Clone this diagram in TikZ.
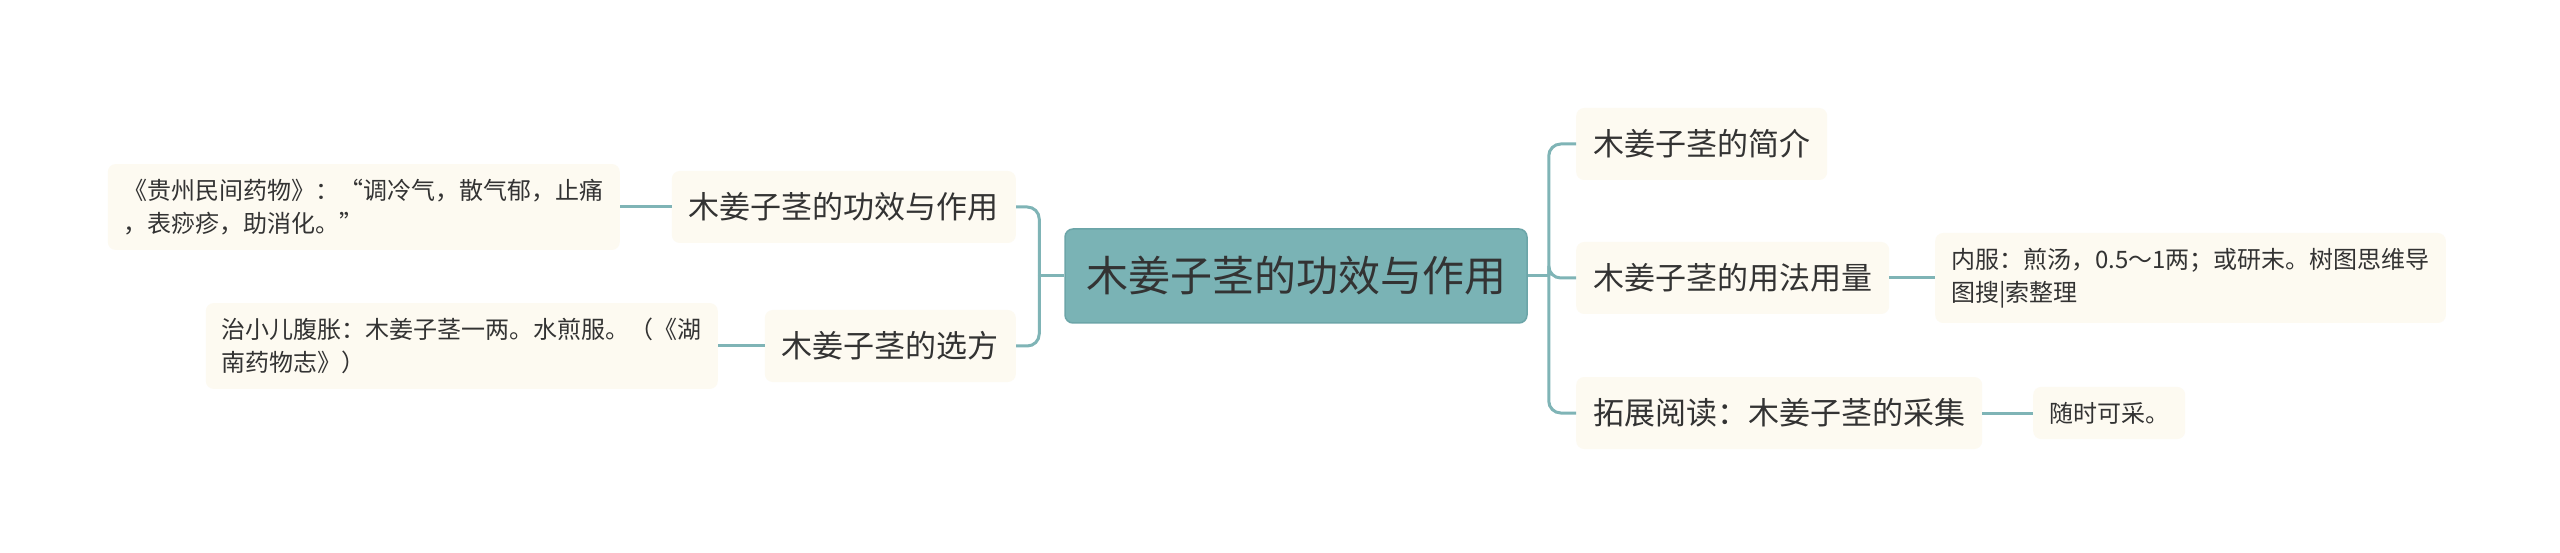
\documentclass[tikz,border=0pt]{standalone}
\usepackage{fontspec}
\newfontfamily\cjk{Noto Sans CJK SC}
\definecolor{mmteal}{HTML}{7AB3B5}
\definecolor{mmedge}{HTML}{6CA5A8}
\definecolor{mmline}{HTML}{7FB4B6}
\definecolor{mmcream}{HTML}{FDFAF1}
\definecolor{mmtext}{HTML}{333333}
\tikzset{rootbox/.style = {draw = mmedge, fill = mmteal, line width = 1.5, rounded corners = 8, text = mmtext,
                           font = \cjk\fontsize{42}{50}\selectfont, minimum height = 94, inner xsep = 21}}
\tikzset{branch/.style = {fill = mmcream, rounded corners = 8, text = mmtext,
                          font = \cjk\fontsize{31}{38}\selectfont, minimum height = 72, inner xsep = 17}}
\tikzset{note/.style = {fill = mmcream, rounded corners = 8, text = mmtext, align = left,
                        font = \cjk\fontsize{24}{33}\selectfont, inner xsep = 16, inner ysep = 15}}
\tikzset{conn/.style = {draw = mmline, line width = 3}}
\usetikzlibrary{positioning}

\begin{document}
\begin{tikzpicture}[x = 1pt, y = -1pt]
    \fill [white] (0, 0) rectangle (2560, 553);
    % centre
    \node [rootbox] (root) at (1296, 276) {木姜子茎的功效与作用};
    % right side
    \node [branch, anchor = west] (intro) at (1576, 144) {木姜子茎的简介};
    \node [branch, anchor = west] (usage) at (1576, 278) {木姜子茎的用法用量};
    \node [branch, anchor = west] (pick) at (1576, 413) {拓展阅读：木姜子茎的采集};
    \node [note, anchor = west] (usagenote) at (1935, 278) {内服：煎汤，0.5～1两；或研末。树图思维导\\图搜|索整理};
    \node [note, anchor = west] (picknote) at (2033, 413) {随时可采。};
    % left side
    \node [branch, anchor = east] (effect) at (1016, 207) {木姜子茎的功效与作用};
    \node [branch, anchor = east] (recipe) at (1016, 346) {木姜子茎的选方};
    \node [note, anchor = east] (effectnote) at (620, 207) {《贵州民间药物》：“调冷气，散气郁，止痛\\，表痧疹，助消化。”};
    \node [note, anchor = east] (recipenote) at (718, 346) {治小儿腹胀：木姜子茎一两。水煎服。（《湖\\南药物志》）};
    % connectors
    \coordinate [right = 21pt of root] (rj);
    \coordinate [left = 25pt of root] (lj);
    \draw [conn] (root.east) -- (rj);
    \draw [conn] (root.west) -- (lj);
    \draw [conn, rounded corners = 12] (rj) |- (intro.west);
    \draw [conn, rounded corners = 12] (rj) |- (usage.west);
    \draw [conn, rounded corners = 12] (rj) |- (pick.west);
    \draw [conn, rounded corners = 12] (lj) |- (effect.east);
    \draw [conn, rounded corners = 12] (lj) |- (recipe.east);
    \draw [conn] (usage.east) -- (usagenote.west);
    \draw [conn] (pick.east) -- (picknote.west);
    \draw [conn] (effect.west) -- (effectnote.east);
    \draw [conn] (recipe.west) -- (recipenote.east);
\end{tikzpicture}
\end{document}
